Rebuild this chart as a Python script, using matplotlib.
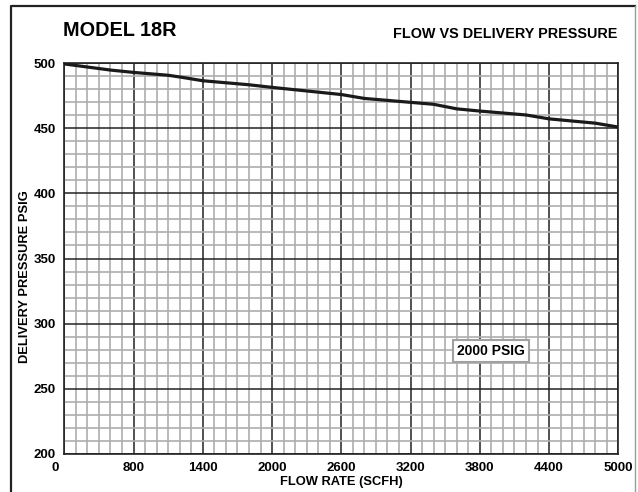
import matplotlib.pyplot as plt
from matplotlib.lines import Line2D
from matplotlib.transforms import ScaledTranslation

# flow rate (SCFH) vs delivery pressure (PSIG)
flow = [200, 600, 800, 1100, 1200, 1400, 1800, 2000, 2600, 2800,
        3200, 3400, 3600, 3800, 4200, 4400, 4800, 5000]
pressure = [499.5, 494.8, 493, 490.8, 489.5, 486.6, 483.5, 481.5, 476, 473,
            470, 468.5, 465, 463.3, 460.3, 457.3, 454, 451]

x_ticks = [200, 800, 1400, 2000, 2600, 3200, 3800, 4400, 5000]
x_labels = ["0", "800", "1400", "2000", "2600", "3200", "3800", "4400", "5000"]
y_ticks = [200, 250, 300, 350, 400, 450, 500]

plt.rcParams["font.family"] = ["Liberation Sans", "DejaVu Sans"]
plt.rcParams["font.weight"] = "bold"

W, H = 638, 492
fig = plt.figure(figsize=(W / 100, H / 100), dpi=100)
ax = fig.add_axes([64.3 / W, (H - 453.7) / H, 554 / W, 390.4 / H])

# outer frame of the page (left/top dark, right edge faint)
fx0, fx1, fy = 11 / W, 635 / W, 1 - 6 / H
fig.lines.append(Line2D([fx0, fx0, fx1], [0, fy, fy], transform=fig.transFigure,
                        color="#222222", linewidth=1.6))
fig.lines.append(Line2D([fx1, fx1], [fy, 0], transform=fig.transFigure,
                        color="#9a9a9a", linewidth=1.0))

ax.plot(flow, pressure, color="#1a1a1a", linewidth=2.3, zorder=5, solid_capstyle="butt")

ax.set_xlim(200, 5000)
ax.set_ylim(200, 500)
ax.set_xticks(x_ticks)
ax.set_xticklabels(x_labels)
ax.set_yticks(y_ticks)
ax.set_xticks(range(200, 5001, 100), minor=True)
ax.set_yticks(range(200, 501, 10), minor=True)
ax.tick_params(which="both", length=0)
ax.tick_params(axis="x", pad=6, labelsize=9.5)
ax.tick_params(axis="y", pad=6, labelsize=9.5)

ax.grid(which="minor", color="#aeaeae", linewidth=1.2, zorder=1)
ax.grid(which="major", color="#222222", linewidth=1.1, zorder=2)
ax.set_axisbelow(True)
for s in ax.spines.values():
    s.set_linewidth(1.2)
    s.set_color("#222222")

# the "0" label sits a bit left of the corner
lbl0 = ax.get_xticklabels()[0]
lbl0.set_transform(lbl0.get_transform() + ScaledTranslation(-9 / 100, 0, fig.dpi_scale_trans))

fig.text(25 / W, 1 - 277 / H, "DELIVERY PRESSURE PSIG", rotation=90, fontsize=9.3,
         fontweight="bold", ha="center", va="center")
fig.text(341 / W, 1 - 482 / H, "FLOW RATE (SCFH)", fontsize=9.3, fontweight="bold",
         ha="center", va="center")

fig.text(63 / W, 1 - 30 / H, "MODEL 18R", fontsize=14.3, fontweight="bold",
         ha="left", va="center")
fig.text(617 / W, 1 - 34.3 / H, "FLOW VS DELIVERY PRESSURE", fontsize=10.4,
         fontweight="bold", ha="right", va="center")

ax.text(3900, 279, "2000 PSIG", fontsize=10, fontweight="bold", ha="center", va="center",
        zorder=6, bbox=dict(boxstyle="square,pad=0.3", facecolor="white",
                            edgecolor="#a0a0a0", linewidth=1.5))

fig.savefig("out.png", dpi=100)
